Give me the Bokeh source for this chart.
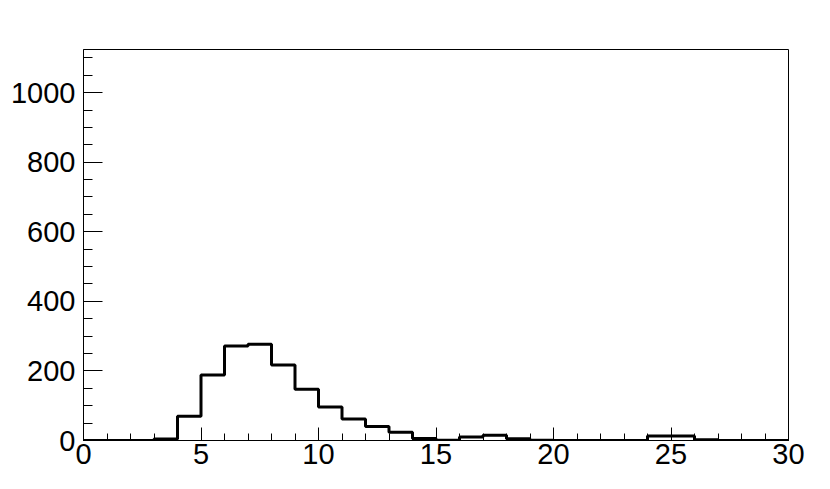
from bokeh.plotting import figure
from bokeh.models import Range1d, FixedTicker
from bokeh.embed import file_html
from bokeh.resources import INLINE

# Histogram bin edges (0..30, width 1) and counts
bin_edges = list(range(0, 31))
counts = [0, 0, 0, 4, 70, 188, 272, 277, 217, 147,
          96, 62, 40, 24, 6, 1, 10, 15, 5, 1,
          0, 0, 0, 0, 13, 13, 2, 0, 0, 0]
x_ticks = [0, 5, 10, 15, 20, 25, 30]
y_ticks = [0, 200, 400, 600, 800, 1000]

p = figure(width=822, height=481, output_backend="svg", toolbar_location=None,
           x_range=Range1d(0, 30), y_range=Range1d(0, 1124),
           frame_width=705, frame_height=391)
p.min_border_left = 83
p.min_border_right = 34
p.min_border_top = 49
p.min_border_bottom = 41
p.xgrid.visible = False
p.ygrid.visible = False
p.outline_line_color = "black"
p.outline_line_width = 1
p.background_fill_color = "white"
p.border_fill_color = "white"

step_y = counts + [counts[-1]]
p.step(bin_edges, step_y, mode="after", line_color="black", line_width=3)

for ax in (p.xaxis[0], p.yaxis[0]):
    ax.axis_line_color = "black"
    ax.major_tick_line_color = "black"
    ax.minor_tick_line_color = "black"
    ax.major_tick_out = 0
    ax.minor_tick_out = 0
    ax.major_label_text_font = "Liberation Sans"
    ax.major_label_text_font_size = "29px"
    ax.major_label_text_color = "black"

p.xaxis.ticker = FixedTicker(ticks=x_ticks, minor_ticks=list(range(0, 31)))
p.yaxis.ticker = FixedTicker(ticks=y_ticks, minor_ticks=list(range(0, 1124, 50)))
p.xaxis.major_tick_in = 13
p.xaxis.minor_tick_in = 7
p.yaxis.major_tick_in = 19
p.yaxis.minor_tick_in = 9
p.xaxis.major_label_standoff = 3
p.yaxis.major_label_standoff = 8

open("out.html", "w").write(file_html(p, INLINE))
